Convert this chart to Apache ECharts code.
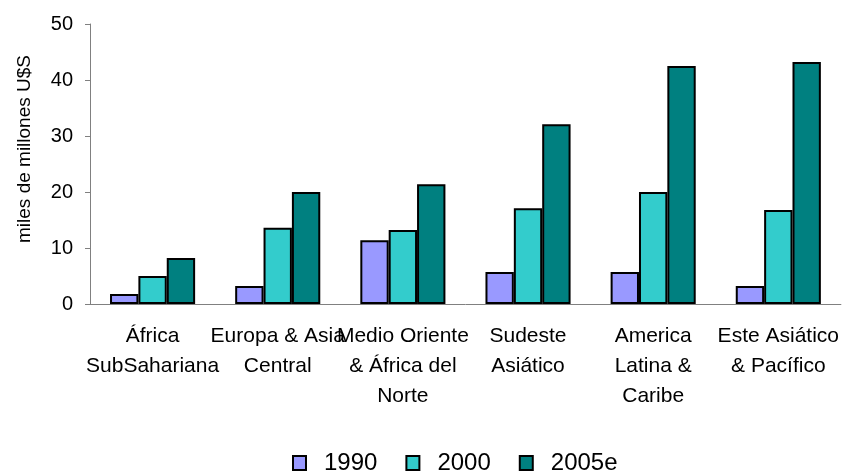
<!DOCTYPE html>
<html>
<head>
<meta charset="utf-8">
<script src="https://cdn.jsdelivr.net/npm/echarts@6/dist/echarts.min.js"></script>
<style>html,body{margin:0;padding:0;background:#fff}#c{width:842px;height:472px}</style>
</head>
<body>
<div id="c"></div>
<script>
var categories = ["África\nSubSahariana", "Europa & Asia\nCentral", "Medio Oriente\n& África del\nNorte", "Sudeste\nAsiático", "America\nLatina &\nCaribe", "Este Asiático\n& Pacífico"];
var s1990 = [1.8, 3.2, 11.4, 5.7, 5.7, 3.2];
var s2000 = [5.0, 13.6, 13.2, 17.1, 20.0, 16.8];
var s2005 = [8.2, 20.0, 21.4, 32.1, 42.5, 43.2];
var seriesNames = ["1990", "2000", "2005e"];
var colors = ["#9999FF", "#33CCCC", "#008080"];
var font = "'Liberation Sans', Arial, sans-serif";

var chart = echarts.init(document.getElementById('c'));
function mk(name, data, color) {
  return {
    name: name, type: 'bar', data: data, barGap: '0%', barCategoryGap: '32%',
    itemStyle: { color: color, borderColor: '#000', borderWidth: 2 }
  };
}
chart.setOption({
  animation: false,
  textStyle: { fontFamily: font },
  grid: { left: 90, right: 1, top: 24, bottom: 168 },
  legend: {
    bottom: -8, left: 287, itemWidth: 13, itemHeight: 14, itemGap: 28,
    icon: 'rect',
    textStyle: { fontSize: 24, color: '#000', fontFamily: font, padding: [0, 0, 0, 13] },
    data: seriesNames
  },
  xAxis: {
    type: 'category', data: categories,
    axisLine: { lineStyle: { color: '#808080', width: 1 } },
    axisTick: { length: 5, lineStyle: { color: '#808080' } },
    axisLabel: { interval: 0, fontSize: 21, lineHeight: 30, color: '#000', margin: 17, fontFamily: font }
  },
  yAxis: {
    type: 'value', min: 0, max: 50, interval: 10,
    name: 'miles de millones U$S', nameLocation: 'middle', nameGap: 56, nameRotate: 90,
    nameTextStyle: { fontSize: 19, color: '#000', fontFamily: font, padding: [0, 0, 0, 30] },
    axisLine: { show: true, lineStyle: { color: '#808080', width: 1 } },
    axisTick: { show: true, length: 5, lineStyle: { color: '#808080' } },
    splitLine: { show: false },
    axisLabel: { fontSize: 20, color: '#000', margin: 17, fontFamily: font }
  },
  series: [mk(seriesNames[0], s1990, colors[0]), mk(seriesNames[1], s2000, colors[1]), mk(seriesNames[2], s2005, colors[2])]
});
</script>
</body>
</html>
